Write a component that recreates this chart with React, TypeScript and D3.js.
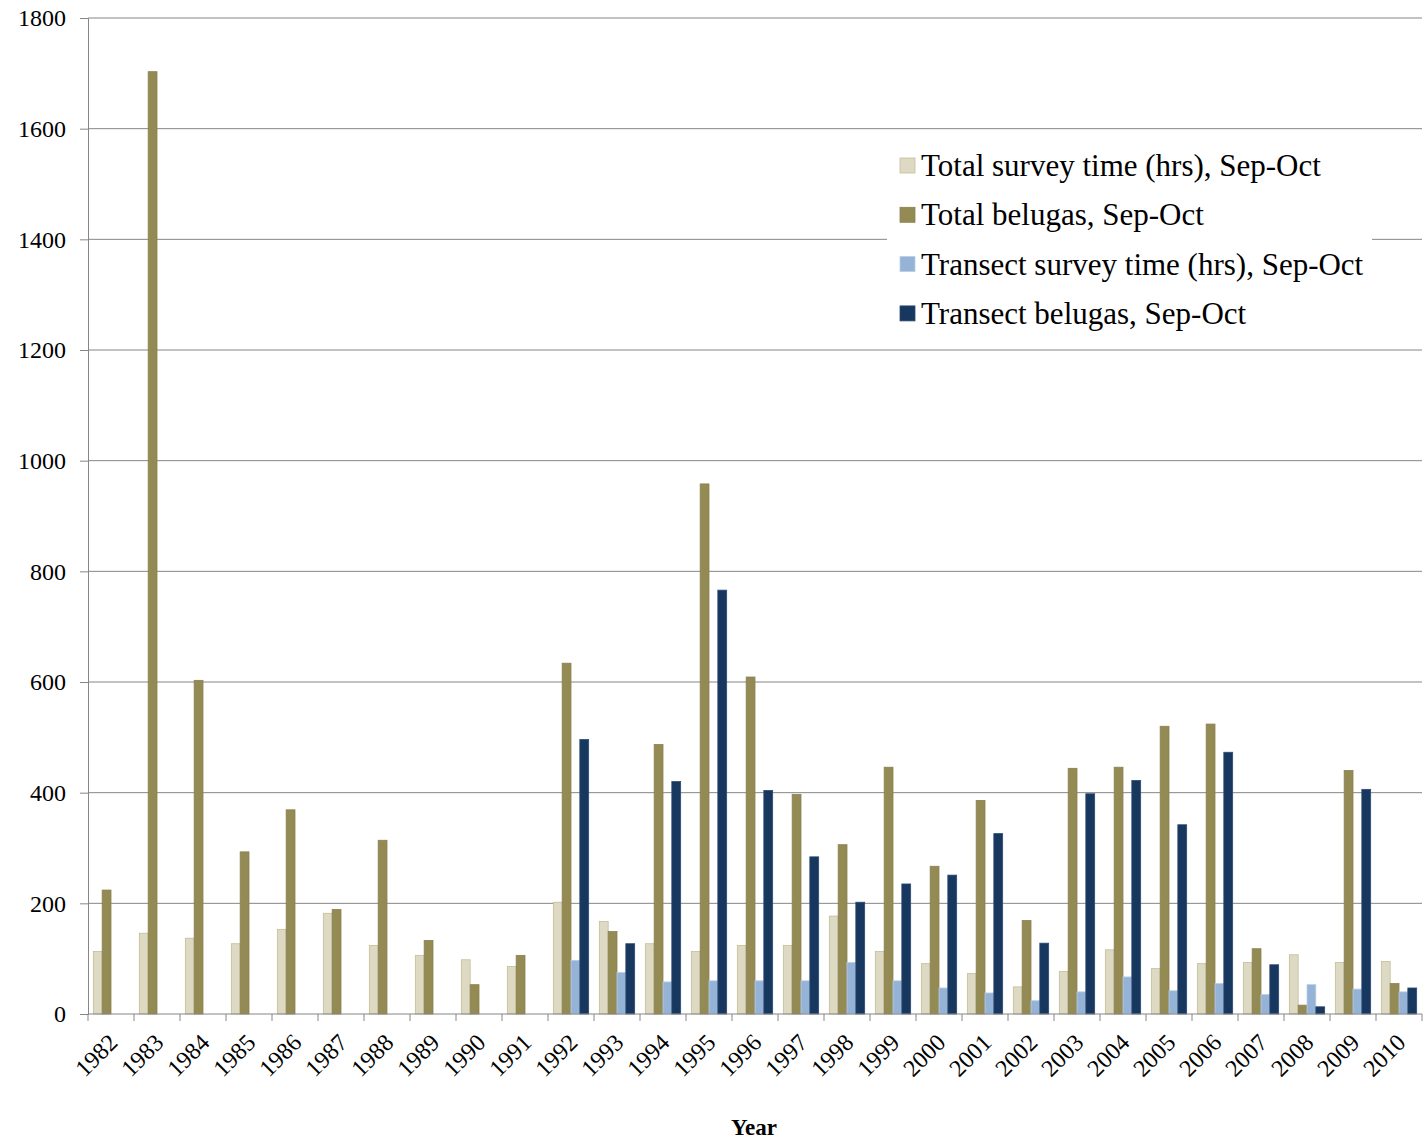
import { useRef, useEffect } from "react";
import * as d3 from "d3";

const YEARS = [
  "1982", "1983", "1984", "1985", "1986", "1987", "1988", "1989", "1990", "1991",
  "1992", "1993", "1994", "1995", "1996", "1997", "1998", "1999", "2000", "2001",
  "2002", "2003", "2004", "2005", "2006", "2007", "2008", "2009", "2010",
];
const TOTAL_SURVEY = [113, 146, 137, 127, 153, 182, 124, 106, 98, 86, 202, 167, 127, 113, 124, 124, 177, 113, 91, 73, 49, 77, 116, 82, 91, 93, 107, 93, 95];
const TOTAL_BELUGAS = [224, 1703, 603, 293, 369, 189, 314, 133, 53, 106, 634, 149, 487, 958, 609, 397, 306, 446, 267, 386, 169, 444, 446, 520, 524, 118, 16, 440, 55];
const TRANSECT_SURVEY = [null, null, null, null, null, null, null, null, null, null, 97, 75, 58, 60, 60, 60, 93, 60, 47, 38, 24, 40, 67, 42, 55, 35, 53, 45, 40];
const TRANSECT_BELUGAS = [null, null, null, null, null, null, null, null, null, null, 496, 127, 420, 766, 404, 284, 202, 235, 251, 326, 128, 398, 422, 342, 473, 89, 13, 406, 47];

const SERIES_NAMES = [
  "Total survey time (hrs), Sep-Oct",
  "Total belugas, Sep-Oct",
  "Transect survey time (hrs), Sep-Oct",
  "Transect belugas, Sep-Oct",
];
const COLORS = ["#ddd9c3", "#948a54", "#95b3d7", "#17375e"];
const STROKES = ["#c4bd97", "#8a8050", "#b9cde5", "#2a4a72"];
const Y_TICKS = [0, 200, 400, 600, 800, 1000, 1200, 1400, 1600, 1800];

const FONT = "'Liberation Serif', 'Times New Roman', serif";
const W = 1426;
const H = 1142;

export default function App() {
  const ref = useRef<SVGSVGElement>(null);

  useEffect(() => {
    if (!ref.current) return;
    const svg = d3.select(ref.current);
    svg.selectAll("*").remove();

    const mg = { t: 18, r: 4, b: 128, l: 88 };
    const series = [TOTAL_SURVEY, TOTAL_BELUGAS, TRANSECT_SURVEY, TRANSECT_BELUGAS];

    const x0 = d3.scaleBand<string>()
      .domain(YEARS)
      .range([mg.l, W - mg.r])
      .paddingInner(0.232)
      .paddingOuter(0.116);
    const x1 = d3.scaleBand<number>()
      .domain([0, 1, 2, 3])
      .range([0, x0.bandwidth()]);
    const y = d3.scaleLinear().domain([0, 1800]).range([H - mg.b, mg.t]);

    const step = x0.step();
    const gray = "#868686";

    // gridlines
    Y_TICKS.filter((t) => t > 0).forEach((t) => {
      svg.append("line")
        .attr("x1", mg.l).attr("x2", W - mg.r)
        .attr("y1", y(t)).attr("y2", y(t))
        .attr("stroke", gray).attr("stroke-width", 1);
    });

    // y axis
    svg.append("g")
      .attr("transform", `translate(${mg.l},0)`)
      .call(d3.axisLeft(y).tickValues(Y_TICKS).tickSize(8).tickPadding(14).tickFormat((d) => String(d)))
      .call((g) => g.select(".domain").attr("stroke", gray))
      .call((g) => g.selectAll(".tick line").attr("stroke", gray))
      .selectAll("text")
      .attr("fill", "#000").attr("font-size", "24px").attr("font-family", FONT);

    // legend background (hides the gridline under it)
    svg.append("rect")
      .attr("x", 887).attr("y", 130).attr("width", 485).attr("height", 218)
      .attr("fill", "#fff");

    // bars
    series.forEach((vals, si) => {
      svg.append("g").selectAll("rect")
        .data(YEARS.map((yr, i) => ({ yr, v: vals[i] })).filter((d) => d.v != null))
        .join("rect")
        .attr("x", (d) => x0(d.yr)! + x1(si)!)
        .attr("width", x1.bandwidth())
        .attr("y", (d) => y(d.v as number))
        .attr("height", (d) => y(0) - y(d.v as number))
        .attr("fill", COLORS[si])
        .attr("stroke", STROKES[si]).attr("stroke-width", 0.8);
    });

    // x axis baseline + ticks at category boundaries
    svg.append("line")
      .attr("x1", mg.l).attr("x2", W - mg.r)
      .attr("y1", y(0)).attr("y2", y(0))
      .attr("stroke", gray);
    d3.range(YEARS.length + 1).forEach((i) => {
      const xx = mg.l + i * step;
      svg.append("line")
        .attr("x1", xx).attr("x2", xx)
        .attr("y1", y(0)).attr("y2", y(0) + 7)
        .attr("stroke", gray);
    });

    // rotated year labels
    YEARS.forEach((yr) => {
      const cx = x0(yr)! + x0.bandwidth() / 2;
      svg.append("text")
        .attr("transform", `translate(${cx + 8},${y(0) + 30}) rotate(-45)`)
        .attr("text-anchor", "end")
        .attr("font-size", "24px").attr("font-family", FONT)
        .attr("fill", "#000")
        .text(yr);
    });

    // axis title
    svg.append("text")
      .attr("x", 754).attr("y", 1135)
      .attr("text-anchor", "middle")
      .attr("font-size", "23px").attr("font-weight", "bold").attr("font-family", FONT)
      .text("Year");

    // legend
    const lg = svg.append("g");
    SERIES_NAMES.forEach((name, i) => {
      const ly = 166 + i * 49.3;
      lg.append("rect")
        .attr("x", 900).attr("y", ly - 8).attr("width", 15).attr("height", 15)
        .attr("fill", COLORS[i]).attr("stroke", STROKES[i]).attr("stroke-width", 0.8);
      lg.append("text")
        .attr("x", 921).attr("y", ly + 10)
        .attr("font-size", "31px").attr("font-family", FONT)
        .attr("fill", "#000")
        .text(name);
    });
  }, []);

  return (
    <svg
      ref={ref}
      width={W}
      height={H}
      style={{ position: "absolute", left: 0, top: 0, background: "#fff", display: "block" }}
    />
  );
}
